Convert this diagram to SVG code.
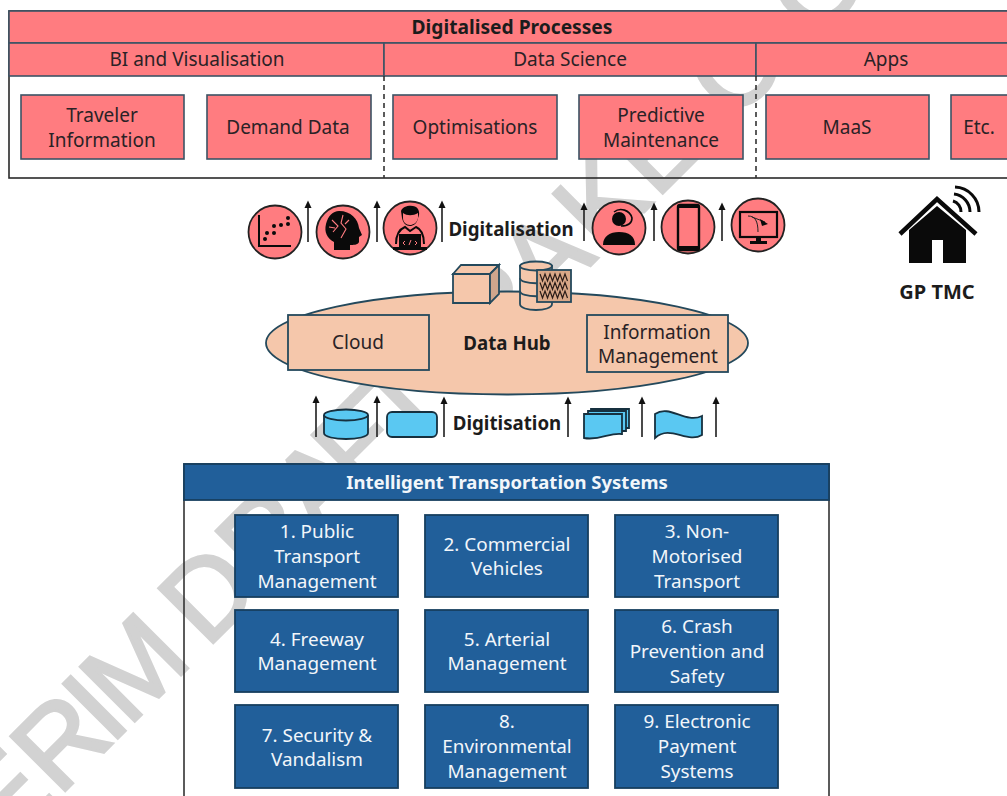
<svg xmlns="http://www.w3.org/2000/svg" width="1007" height="796" viewBox="0 0 1007 796">
<style>
text{font-family:"Noto Sans","Open Sans","Liberation Sans",sans-serif;text-anchor:middle}
.t,.b,.w,.wb{transform:translateY(.7px)}
.t{font-size:19px;fill:#2a2226}
.b{font-size:18.7px;font-weight:700;fill:#1c1c1c}
.w{font-size:18.9px;fill:#f2f6fa}
.wb{font-size:18.5px;font-weight:700;fill:#f2f6fa}
.pk{fill:#ff7c80;stroke:#3c5364;stroke-width:1.6}
.pe{fill:#f5c7ab;stroke:#24495c;stroke-width:1.8}
.bl{fill:#215f9a;stroke:#173f5f;stroke-width:1.8}
.lb{fill:#5ac8f2;stroke:#16303f;stroke-width:1.8}
.c{fill:#ff7c80;stroke:#222;stroke-width:1.8}
.k{fill:#0a0a0a;stroke:none}
.ko{fill:none;stroke:#0a0a0a;stroke-width:2}
.arr{stroke:#2b2b2b;stroke-width:1.7;fill:none;marker-end:url(#ah)}
.wm{font-family:"Liberation Sans",sans-serif;font-size:112px;fill:#d2d2d2;stroke:#d2d2d2;stroke-width:3;text-anchor:start}
</style>
<defs>
<marker id="ah" markerUnits="userSpaceOnUse" markerWidth="8" markerHeight="8" refX="1" refY="4" orient="auto"><path d="M0 0.500L7.500 4L0 7.500Z" fill="#111"/></marker>
</defs>
<rect width="1007" height="796" fill="#fff"/>
<g id="watermark" transform="translate(213,643) rotate(-45)">
<text class="wm" x="-293 -218 -145 -120 -9 72 150 208 270">ERIMDRAFT</text>
<text class="wm" x="395 470 549 627 735 850">RAKECO</text>
</g>

<g id="digitalised-processes">
<rect x="9" y="11" width="1010" height="167" fill="none" stroke="#2a2a2a" stroke-width="1.6"/>
<rect class="pk" x="9" y="11" width="1010" height="32"/>
<text class="b" style="font-size:19.2px" x="512" y="33">Digitalised Processes</text>
<rect class="pk" x="9" y="43" width="375" height="33"/>
<rect class="pk" x="384" y="43" width="372" height="33"/>
<rect class="pk" x="756" y="43" width="263" height="33"/>
<text class="t" x="197" y="65">BI and Visualisation</text>
<text class="t" x="570" y="65">Data Science</text>
<text class="t" x="886" y="65">Apps</text>
<path d="M384 76V178M756 76V178" fill="none" stroke="#333" stroke-width="1.6" stroke-dasharray="5 4"/>
</g>
<g id="traveler-information"><rect class="pk" x="21" y="95" width="163" height="64"/><text class="t" x="102" y="121">Traveler</text><text class="t" x="102" y="146">Information</text></g>
<g id="demand-data"><rect class="pk" x="207" y="95" width="164" height="64"/><text class="t" x="288" y="133">Demand Data</text></g>
<g id="optimisations"><rect class="pk" x="393" y="95" width="164" height="64"/><text class="t" x="475" y="133">Optimisations</text></g>
<g id="predictive-maintenance"><rect class="pk" x="579" y="95" width="164" height="64"/><text class="t" x="661" y="121">Predictive</text><text class="t" x="661" y="146">Maintenance</text></g>
<g id="maas"><rect class="pk" x="766" y="95" width="163" height="64"/><text class="t" x="847" y="133">MaaS</text></g>
<g id="etc"><rect class="pk" x="951" y="95" width="70" height="64"/><text class="t" x="979" y="133">Etc.</text></g>

<g id="connectors">
<path class="arr" d="M308 242V207"/><path class="arr" d="M377 242V207"/><path class="arr" d="M442 242V207"/>
<path class="arr" d="M584 241V209"/><path class="arr" d="M654 241V209"/><path class="arr" d="M722 241V209"/>
<path class="arr" d="M316 437V402"/><path class="arr" d="M377 437V402"/><path class="arr" d="M444 437V403"/>
<path class="arr" d="M568 437V403"/><path class="arr" d="M642 437V403"/><path class="arr" d="M716 437V403"/>
</g>

<g id="icon-chart"><circle class="c" cx="275" cy="232" r="26.500"/>
<path class="ko" d="M259 215V246H291"/>
<g class="k"><circle cx="265" cy="239" r="2"/><circle cx="267" cy="233" r="2"/><circle cx="274" cy="233" r="2"/><circle cx="274" cy="226" r="2"/><circle cx="281" cy="225" r="2"/><circle cx="288" cy="224" r="2"/><circle cx="288" cy="218" r="2"/></g></g>
<g id="icon-brain"><circle class="c" cx="343" cy="232" r="26.500"/>
<path class="k" d="M339 211C351 211 358 219 359 228L362 235L359 237V242C358 245 353 245 350 245V250H334V242C327 238 324 232 326 224C328 216 333 211 339 211Z"/>
<path d="M332 220L338 226L333 232M343 215L341 223L346 229L341 238M349 220L345 224M329 227L335 228" fill="none" stroke="#ff7c80" stroke-width="1.100"/></g>
<g id="icon-developer"><circle class="c" cx="410" cy="228" r="26.500"/>
<path class="k" d="M401 211C403 205 415 204 418 209C420 213 419 216 418 218C417 224 413 226 410 226C406 226 403 223 402 218Z"/>
<path d="M403 213C407 216 413 216 418 213V218C417 223 413 225 410 225C406 225 403 222 403 218Z" fill="#ff7c80"/>
<path class="ko" d="M396 244C396 233 400 229 405 227L410 231L416 227C421 229 424 233 424 244"/>
<rect class="k" x="399" y="234" width="22" height="14"/><path class="k" d="M393 247H427V250H393Z"/>
<path d="M405 241L403 243L405 245M409 245L411 240M415 241L417 243L415 245" fill="none" stroke="#ff7c80" stroke-width="1"/></g>
<g id="digitalisation-label"><text class="b" x="511" y="235">Digitalisation</text></g>
<g id="icon-support"><circle class="c" cx="619" cy="228" r="26.500"/>
<circle class="k" cx="619" cy="219" r="7"/><path class="k" d="M603 245C603 236 610 232 619 232C629 232 635 236 635 245Z"/>
<path d="M614 212C620 207 630 210 632 218C632 224 627 226 621 226" fill="none" stroke="#0a0a0a" stroke-width="1.600"/></g>
<g id="icon-phone"><circle class="c" cx="688" cy="227" r="26.500"/>
<rect x="678" y="205" width="21" height="45" rx="2" fill="none" stroke="#0a0a0a" stroke-width="2.400"/>
<path class="k" d="M678 205H699V208H678ZM678 246H699V250H678Z"/></g>
<g id="icon-monitor"><circle class="c" cx="758" cy="225" r="26.500"/>
<rect x="740" y="212" width="37" height="25" fill="none" stroke="#0a0a0a" stroke-width="2.200"/>
<path class="k" d="M756 237H761V241H767V244H750V241H756Z"/>
<path d="M748 216C755 216 758 221 758 232M752 217L765 222" fill="none" stroke="#222" stroke-width="1"/><path class="k" d="M760 219L768 224L762 226Z"/></g>

<g id="gp-tmc">
<path class="k" d="M909 230L937 206L966 230V263H943V240H932V263H909Z"/>
<path d="M900 234L937 199L976 234" fill="none" stroke="#0a0a0a" stroke-width="4.500"/>
<path d="M953 201A11 11 0 0 1 961 212M954 194A18 18 0 0 1 970 212M955 187A25 25 0 0 1 979 212" fill="none" stroke="#0a0a0a" stroke-width="3"/>
<text class="b" style="font-size:20px" x="937" y="298">GP TMC</text>
</g>

<g id="data-hub">
<ellipse class="pe" cx="507" cy="343" rx="241" ry="51.500"/>
<text class="b" x="507" y="349">Data Hub</text>
</g>
<g id="cube"><path class="pe" d="M453 274H490V303H453Z"/><path class="pe" d="M453 274L461 265H499L490 274Z"/><path d="M490 274L499 265V294L490 303Z" fill="#cfa68d" stroke="#24495c" stroke-width="1.800"/></g>
<g id="database">
<path class="pe" d="M520 266V304C520 312 552 312 552 304V266Z"/><ellipse class="pe" cx="536" cy="266" rx="16" ry="4.500"/>
<path d="M520 278C520 285 552 285 552 278M520 291C520 298 552 298 552 291" fill="none" stroke="#24495c" stroke-width="1.800"/>
<rect class="pe" x="537" y="270" width="34" height="32" style="fill:#d9a888"/>
<path d="M540 274l2.500 7 2.500-7 2.500 7 2.500-7 2.500 7 2.500-7 2.500 7 2.500-7 2.500 7 2.500-7 2.500 7M540 282.500l2.500 7 2.500-7 2.500 7 2.500-7 2.500 7 2.500-7 2.500 7 2.500-7 2.500 7 2.500-7 2.500 7M540 291l2.500 7 2.500-7 2.500 7 2.500-7 2.500 7 2.500-7 2.500 7 2.500-7 2.500 7 2.500-7 2.500 7" fill="none" stroke="#2a1c18" stroke-width="1.200"/>
</g>
<g id="cloud"><rect class="pe" x="288" y="315" width="141" height="55"/><text class="t" x="358" y="348">Cloud</text></g>
<g id="information-management"><rect class="pe" x="587" y="315" width="141" height="57"/><text class="t" x="657" y="338">Information</text><text class="t" x="658" y="362">Management</text></g>

<g id="digitisation-label"><text class="b" x="507" y="429">Digitisation</text></g>
<g id="icon-cylinder"><path class="lb" d="M324 416V433C324 441 368 441 368 433V416Z"/><ellipse class="lb" cx="346" cy="415" rx="22" ry="5.500"/></g>
<g id="icon-process"><rect class="lb" x="387" y="412" width="50" height="25" rx="5"/></g>
<g id="icon-documents">
<path class="lb" d="M591 409H629V428H591Z"/><path class="lb" d="M588 411H626V431H588Z"/>
<path class="lb" d="M584 414H622V434C610 432 600 441 584 438Z"/></g>
<g id="icon-tape"><path class="lb" d="M655 414C670 404 685 424 702 416V435C687 444 670 424 655 438Z"/></g>

<g id="its">
<rect x="184" y="464" width="645" height="345" fill="none" stroke="#333" stroke-width="1.600"/>
<rect class="bl" x="184" y="464" width="645" height="36"/>
<text class="wb" x="507" y="488">Intelligent Transportation Systems</text>
</g>
<g id="its-1"><rect class="bl" x="235" y="515" width="163" height="82"/><text class="w" x="317" y="537">1. Public</text><text class="w" x="317" y="562">Transport</text><text class="w" x="317" y="587">Management</text></g>
<g id="its-2"><rect class="bl" x="425" y="515" width="163" height="82"/><text class="w" x="507" y="550">2. Commercial</text><text class="w" x="507" y="574">Vehicles</text></g>
<g id="its-3"><rect class="bl" x="615" y="515" width="163" height="82"/><text class="w" x="697" y="537">3. Non-</text><text class="w" x="697" y="562">Motorised</text><text class="w" x="697" y="587">Transport</text></g>
<g id="its-4"><rect class="bl" x="235" y="610" width="163" height="82"/><text class="w" x="317" y="645">4. Freeway</text><text class="w" x="317" y="669">Management</text></g>
<g id="its-5"><rect class="bl" x="425" y="610" width="163" height="82"/><text class="w" x="507" y="645">5. Arterial</text><text class="w" x="507" y="669">Management</text></g>
<g id="its-6"><rect class="bl" x="615" y="610" width="163" height="82"/><text class="w" x="697" y="632">6. Crash</text><text class="w" x="697" y="657">Prevention and</text><text class="w" x="697" y="682">Safety</text></g>
<g id="its-7"><rect class="bl" x="235" y="705" width="163" height="83"/><text class="w" x="317" y="741">7. Security &amp;</text><text class="w" x="317" y="765">Vandalism</text></g>
<g id="its-8"><rect class="bl" x="425" y="705" width="163" height="83"/><text class="w" x="507" y="727">8.</text><text class="w" x="507" y="752">Environmental</text><text class="w" x="507" y="777">Management</text></g>
<g id="its-9"><rect class="bl" x="615" y="705" width="163" height="83"/><text class="w" x="697" y="727">9. Electronic</text><text class="w" x="697" y="752">Payment</text><text class="w" x="697" y="777">Systems</text></g>
</svg>
